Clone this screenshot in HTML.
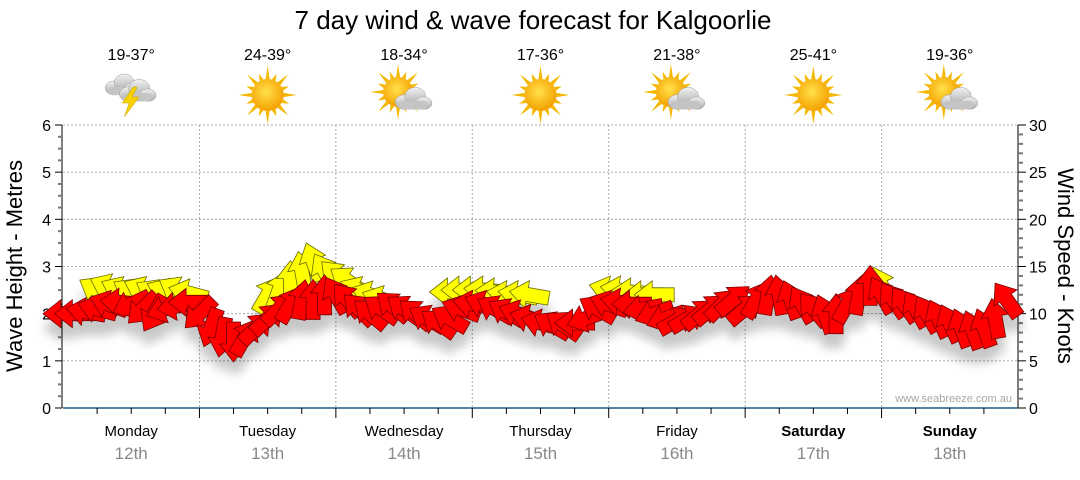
<!DOCTYPE html>
<html><head><meta charset="utf-8"><style>
html,body{margin:0;padding:0;background:#fff;}
svg text{font-family:"Liberation Sans",sans-serif;}
</style></head><body>
<svg id="chart" width="1080" height="475" xmlns="http://www.w3.org/2000/svg">
<defs>
<filter id="shadow" x="-20%" y="-50%" width="140%" height="250%">
<feGaussianBlur in="SourceAlpha" stdDeviation="5"/>
<feOffset dx="0" dy="14"/>
<feComponentTransfer><feFuncA type="linear" slope="0.22"/></feComponentTransfer>
<feMerge><feMergeNode/><feMergeNode in="SourceGraphic"/></feMerge>
</filter>
<radialGradient id="sunG" cx="45%" cy="40%" r="60%"><stop offset="0" stop-color="#ffe24a"/><stop offset="1" stop-color="#f5a000"/></radialGradient>
<linearGradient id="cloudG" x1="0" y1="0" x2="0" y2="1"><stop offset="0" stop-color="#f2f2f2"/><stop offset="1" stop-color="#a9a9a9"/></linearGradient>
</defs>
<text x="533" y="29" font-size="26" text-anchor="middle" fill="#000">7 day wind &amp; wave forecast for Kalgoorlie</text>
<g id="grid"></g>
<g id="axes"></g>
<g id="header"></g>
<g id="arrows" filter="url(#shadow)"></g>
<text transform="translate(22,266) rotate(-90)" font-size="22" text-anchor="middle" fill="#000">Wave Height - Metres</text>
<text transform="translate(1058,266) rotate(90)" font-size="22" text-anchor="middle" fill="#000">Wind Speed - Knots</text>
<text x="1012" y="402" font-size="11" text-anchor="end" fill="#a8a8a8">www.seabreeze.com.au</text>
</svg>
<script>
const days = ["Monday","Tuesday","Wednesday","Thursday","Friday","Saturday","Sunday"];
const dates = ["12th","13th","14th","15th","16th","17th","18th"];
const temps = ["19-37°","24-39°","18-34°","17-36°","21-38°","25-41°","19-36°"];
const icons = ["storm","sun","partly","sun","partly","sun","partly"];
const boldDays = [false,false,false,false,false,true,true];
const waveTicks = [0,1,2,3,4,5,6];
const windTicks = [0,5,10,15,20,25,30];
// 2-hourly wind speed (knots), red series
const redSpeed = [
10,10,10.2,10.5,11,11.2,11,10.5,10,10.5,10.8,11.2,
10,8.5,7.5,7,7.5,8.5,9.5,10.5,11,11.5,11.5,12,
12,11.5,10.5,10,10.5,10.8,10.5,10,9.5,9,9.5,10.5,
11,11,10.5,10.2,10,9.5,9,8.8,8.8,9,9.5,10.5,
11,11.2,11,10.5,10,9.5,9.3,9.5,10,10.5,11,11.5,
10.5,11.5,12,12,11.5,11,10.5,10,10,11,12,13,
12,11.5,11,10.5,10,9.5,9,8.5,8.3,8.5,9.5,11.5];
// arrow heading, degrees (0 = right, 90 = up)
const redDir = [
180,180,170,165,160,175,205,225,240,200,190,180,
225,250,260,270,60,45,45,45,60,80,90,90,
120,130,135,140,145,140,145,140,150,145,150,160,
170,160,150,150,160,165,165,150,145,180,200,150,
160,170,180,190,200,200,30,30,40,40,45,40,
40,60,80,100,110,120,130,110,90,60,80,90,
120,125,125,120,120,115,115,110,110,110,100,125];
const n=null;
const yellowSpeed = [
n,n,n,12.5,12.8,12.5,12.3,12.5,12.2,12.3,12.5,12.2,
n,n,n,n,n,n,12,12.5,13.5,14.5,15.5,14.5,
14,13.5,12.5,12,11.5,n,n,n,n,n,12.3,12.5,
12.5,12.5,12.3,12,12,12,n,n,n,n,n,n,
12.5,12.5,12.3,12,12,n,n,n,n,n,n,n,
n,n,n,n,n,n,n,n,n,n,n,n,
13,n,n,n,n,n,n,n,n,n,n,n];
const yellowDir = [
0,0,0,150,155,155,150,155,150,155,150,165,
0,0,0,0,0,0,60,70,90,100,110,120,
135,145,155,160,160,0,0,0,0,0,180,180,
180,175,175,170,170,170,0,0,0,0,0,0,
165,170,175,180,180,0,0,0,0,0,0,0,
0,0,0,0,0,0,0,0,0,0,0,0,
115,0,0,0,0,0,0,0,0,0,0,0];

const NS="http://www.w3.org/2000/svg";
const X0=63, X1=1018, DAYW=(X1-X0)/7, Y0=408, Y6=125;
const xDay = d => X0 + d*DAYW;
const xHour = h => X0 + h/24*DAYW;
const yWave = m => Y0 - m/6*(Y0-Y6);
const yWind = k => Y0 - k/30*(Y0-Y6);
function el(tag, attrs, parent){const e=document.createElementNS(NS,tag);for(const k in attrs)e.setAttribute(k,attrs[k]);parent.appendChild(e);return e;}
const grid=document.getElementById('grid'), axes=document.getElementById('axes'), header=document.getElementById('header'), arrows=document.getElementById('arrows');

waveTicks.forEach(t=>{ if(t===0)return;
 const g=el('line',{x1:X0,x2:X1,y1:yWave(t),y2:yWave(t),stroke:'#aaa','stroke-dasharray':'2,2'},grid);
 
 
});
for(let d=1;d<7;d++){
 const g=el('line',{x1:xDay(d),x2:xDay(d),y1:Y6,y2:Y0,stroke:'#aaa','stroke-dasharray':'2,2'},grid);
 
 
}
el('line',{x1:X0-1,x2:X0-1,y1:Y6,y2:Y0,stroke:'#000'},axes);
el('line',{x1:X1,x2:X1,y1:Y6,y2:Y0,stroke:'#000'},axes);
el('line',{x1:X0,x2:X1,y1:Y0,y2:Y0,stroke:'#1d5a86','stroke-width':1.5},axes);
for(let i=0;i<=24;i++){const y=yWave(i/4);el('line',{x1:X0-(i%4?5:8),x2:X0-1,y1:y,y2:y,stroke:i%4?'#777':'#000','stroke-width':i%4?2:1},axes);}
for(let k=0;k<=30;k++){const y=yWind(k);el('line',{x1:X1,x2:X1+(k%5?5:8),y1:y,y2:y,stroke:k%5?'#777':'#000','stroke-width':k%5?2:1},axes);}
waveTicks.forEach(t=>{const tx=el('text',{x:X0-12,y:yWave(t)+6,'font-size':16,'text-anchor':'end',fill:'#000'},axes);tx.textContent=t;
 
 });
windTicks.forEach(t=>{const tx=el('text',{x:X1+11,y:yWind(t)+6,'font-size':16,fill:'#000'},axes);tx.textContent=t;
 
 });
for(let q=1;q<28;q++){const x=X0+q*DAYW/4;const major=q%4===0;el('line',{x1:x,x2:x,y1:Y0,y2:Y0+(major?10:6),stroke:'#000'},axes);}
days.forEach((d,i)=>{const cx=xDay(i)+DAYW/2;
 const a=el('text',{x:cx,y:436,'font-size':15,'text-anchor':'middle',fill:'#000','font-weight':boldDays[i]?'bold':'normal'},axes);a.textContent=d;
 
 
 const b=el('text',{x:cx,y:459,'font-size':17,'text-anchor':'middle',fill:'#888'},axes);b.textContent=dates[i];
 
 
});
function sun(g,cx,cy,r){
 for(let i=0;i<16;i++){const a=i*Math.PI/8,l=i%2?r+7:r+13;
  el('polygon',{points:`${cx+Math.cos(a-0.13)*r},${cy+Math.sin(a-0.13)*r} ${cx+Math.cos(a)*l},${cy+Math.sin(a)*l} ${cx+Math.cos(a+0.13)*r},${cy+Math.sin(a+0.13)*r}`,fill:'#f5b800'},g);}
 el('circle',{cx,cy,r,fill:'url(#sunG)'},g);
}
function cloud(g,cx,cy,s){
 el('ellipse',{cx:cx-8*s,cy:cy+2*s,rx:9*s,ry:7*s,fill:'url(#cloudG)',stroke:'#999','stroke-width':0.5},g);
 el('ellipse',{cx:cx+2*s,cy:cy-3*s,rx:10*s,ry:9*s,fill:'url(#cloudG)',stroke:'#999','stroke-width':0.5},g);
 el('ellipse',{cx:cx+10*s,cy:cy+3*s,rx:8*s,ry:6*s,fill:'url(#cloudG)',stroke:'#999','stroke-width':0.5},g);
 el('rect',{x:cx-14*s,y:cy+1*s,width:28*s,height:8*s,rx:4*s,fill:'#c4c4c4'},g);
}
icons.forEach((ic,i)=>{const cx=xDay(i)+DAYW/2;
 const t=el('text',{x:cx,y:60,'font-size':16,'text-anchor':'middle',fill:'#000'},header);t.textContent=temps[i];
 
 
 const g=el('g',{},header);
 
 
 const cy=95;
 if(ic==='sun'){sun(g,cx,cy,16);}
 else if(ic==='partly'){sun(g,cx-6,cy-3,15);cloud(g,cx+9,cy+5,1.05);}
 else {cloud(g,cx-9,cy-9,1.0);cloud(g,cx+6,cy-3,1.05);
  el('polygon',{points:`${cx+2},${cy-8} ${cx-9},${cy+8} ${cx-2},${cy+8} ${cx-7},${cy+22} ${cx+8},${cy+2} ${cx+1},${cy+2} ${cx+6},${cy-8}`,fill:'#f7d000',stroke:'#c9a000','stroke-width':0.5},g);}
});
function arrow(x,y,deg,fill,stroke){
 return el('polygon',{points:'-20,-7 2,-7 2,-14 20,0 2,14 2,7 -20,7',fill,stroke,'stroke-width':0.8,transform:`translate(${x.toFixed(1)},${y.toFixed(1)}) rotate(${-deg})`},arrows);
}
redSpeed.forEach((k,i)=>{
 if(yellowSpeed[i]!=null){const a=arrow(xHour(i*2),yWind(yellowSpeed[i]),yellowDir[i],'#ffff00','#6b6b00');
  
  }
});
redSpeed.forEach((k,i)=>{
 const a=arrow(xHour(i*2),yWind(k),redDir[i],'#ff0000','#7a0000');
 
 
});
</script>
</body></html>
